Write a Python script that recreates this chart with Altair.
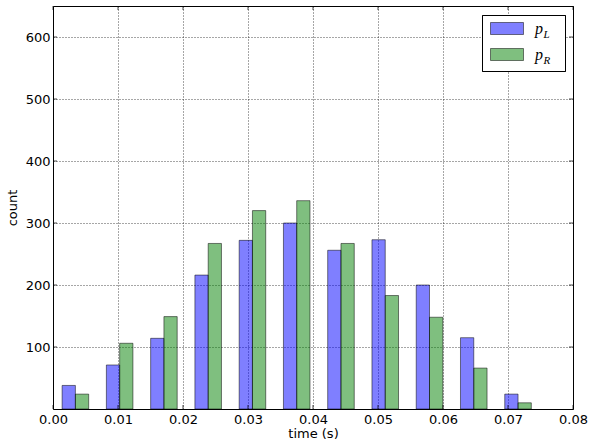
import altair as alt
import pandas as pd

# ---- data ----
series_names = ["p_L", "p_R"]
bin_edges = [0.00004, 0.00685, 0.01366, 0.02047, 0.02728, 0.03409,
             0.04090, 0.04771, 0.05452, 0.06133, 0.06814, 0.07495]
counts_L = [38, 71, 114, 216, 272, 300, 256, 273, 200, 115, 24]
counts_R = [24, 106, 149, 267, 320, 336, 267, 183, 148, 66, 10]
x_ticks = [0.00, 0.01, 0.02, 0.03, 0.04, 0.05, 0.06, 0.07, 0.08]
y_ticks = [100, 200, 300, 400, 500, 600]

RWIDTH = 0.3
rows = []
for i in range(len(counts_L)):
    lo, hi = bin_edges[i], bin_edges[i + 1]
    c = (lo + hi) / 2
    w = (hi - lo) * RWIDTH
    rows.append(dict(series=series_names[0], x0=c - w, x1=c, count=counts_L[i]))
    rows.append(dict(series=series_names[1], x0=c, x1=c + w, count=counts_R[i]))
df = pd.DataFrame(rows)

W, H = 520, 403
colors = ["#0000ff", "#008000"]

x_scale = alt.Scale(domain=[0, 0.08], nice=False, zero=False)
y_scale = alt.Scale(domain=[0, 650], nice=False)
x_axis = alt.Axis(values=x_ticks, format=".2f", title="time (s)", labelFlush=False)
y_axis = alt.Axis(values=y_ticks, title="count", labelFlush=False)

bars = alt.Chart(df).mark_rect(
    fillOpacity=0.5, stroke="black", strokeOpacity=0.5, strokeWidth=1
).encode(
    x=alt.X("x0:Q", scale=x_scale, axis=x_axis, title="time (s)"),
    x2="x1:Q",
    y=alt.Y("count:Q", scale=y_scale, axis=y_axis, title="count"),
    y2=alt.datum(0),
    color=alt.Color("series:N", scale=alt.Scale(domain=series_names, range=colors), legend=None),
)

xt = pd.DataFrame({"v": x_ticks})
yt = pd.DataFrame({"v": y_ticks})
tick_style = dict(color="black", thickness=1, size=4)
xt_bottom = alt.Chart(xt).mark_tick(**tick_style).encode(
    x=alt.X("v:Q", scale=x_scale, axis=x_axis, title="time (s)"), y=alt.value(H - 2))
xt_top = alt.Chart(xt).mark_tick(**tick_style).encode(
    x=alt.X("v:Q", scale=x_scale, axis=x_axis, title="time (s)"), y=alt.value(2))
yt_left = alt.Chart(yt).mark_tick(**tick_style).encode(
    y=alt.Y("v:Q", scale=y_scale, axis=y_axis, title="count"), x=alt.value(2))
yt_right = alt.Chart(yt).mark_tick(**tick_style).encode(
    y=alt.Y("v:Q", scale=y_scale, axis=y_axis, title="count"), x=alt.value(W - 2))

# ---- manual legend (matplotlib style, with subscripts) ----
leg = pd.DataFrame({"series": series_names})
box = alt.Chart(leg).mark_rect(fill="white", stroke="black", strokeWidth=1).encode(
    x=alt.value(429.5), x2=alt.value(512.5), y=alt.value(9.5), y2=alt.value(65.5))

legend_layers = [box]
for k, (name, col) in enumerate(zip(series_names, colors)):
    dy = 26 * k
    sub = name.split("_")[1]
    legend_layers.append(
        alt.Chart(leg).transform_filter(alt.datum.series == name).mark_rect(
            fill=col, fillOpacity=0.5, stroke="black", strokeOpacity=0.5, strokeWidth=1
        ).encode(x=alt.value(437.5), x2=alt.value(470.5), y=alt.value(16.5 + dy), y2=alt.value(28.5 + dy))
    )
    legend_layers.append(
        alt.Chart(leg).transform_filter(alt.datum.series == name).mark_text(
            text="p", font="Liberation Serif", fontStyle="italic", fontSize=16,
            align="left", baseline="alphabetic", color="black"
        ).encode(x=alt.value(482), y=alt.value(28.3 + dy))
    )
    legend_layers.append(
        alt.Chart(leg).transform_filter(alt.datum.series == name).mark_text(
            text=sub, font="Liberation Serif", fontStyle="italic", fontSize=11,
            align="left", baseline="alphabetic", color="black"
        ).encode(x=alt.value(490.5), y=alt.value(31.7 + dy))
    )

chart = alt.layer(
    bars, xt_bottom, xt_top, yt_left, yt_right, *legend_layers
).properties(
    width=W, height=H,
    padding={"left": 53, "top": 6, "right": 19, "bottom": 35},
    autosize=alt.AutoSizeParams(type="none"),
).configure_view(
    stroke="black", strokeWidth=1
).configure_axis(
    labelFont="DejaVu Sans", labelFontSize=13, labelColor="black",
    titleFont="DejaVu Sans", titleFontSize=13, titleFontWeight="normal", titleColor="black",
    domain=False, tickSize=0, labelPadding=4,
    grid=True, gridColor="black", gridDash=[1, 2], gridWidth=1, gridOpacity=0.7,
).configure_axisX(titlePadding=1).configure_axisY(titlePadding=6, labelPadding=3)

chart.save("out.html", embed_options={"renderer": "svg", "actions": False})
